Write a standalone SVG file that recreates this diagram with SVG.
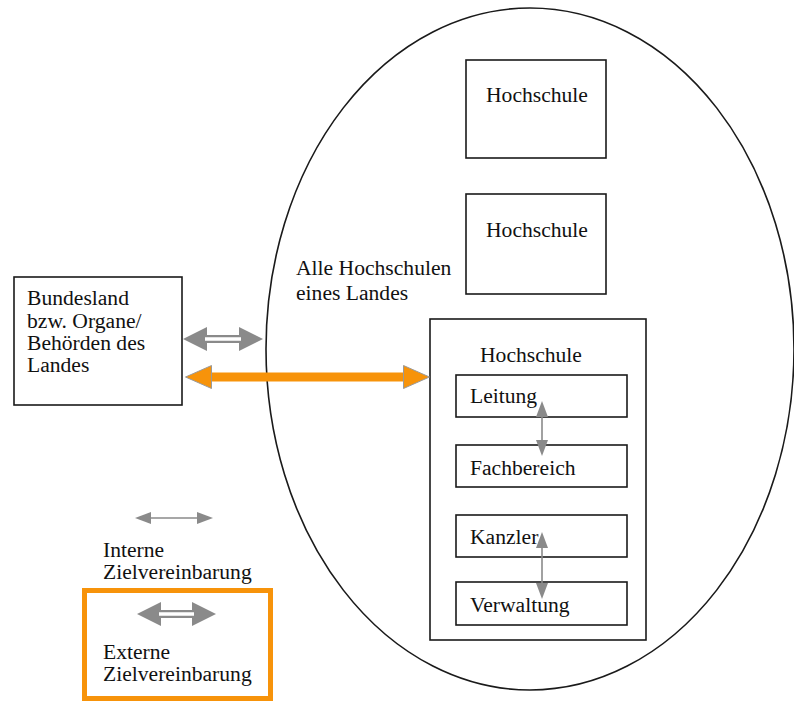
<svg xmlns="http://www.w3.org/2000/svg" width="794" height="701" viewBox="0 0 794 701">
  <style>
    .box { fill: #fff; stroke: #1a1a1a; stroke-width: 1.6; }
    .t { font-family: "Liberation Serif", "Times New Roman", serif; font-size: 21.6px; fill: #111; }
    .int { stroke: #8a8a8a; stroke-width: 1.6; fill: none; }
    .ext { stroke: #8a8a8a; stroke-width: 8; fill: none; }
    .extgap { stroke: #fff; stroke-width: 3.5; fill: none; }
    .orange { stroke: #f7930a; stroke-width: 9; fill: none; }
  </style>
  <defs>
    <!-- heads are anchored at their base, so lines stop where the head begins -->
    <marker id="intHead" viewBox="0 0 16 12" refX="0" refY="6" markerWidth="16" markerHeight="12" markerUnits="userSpaceOnUse" orient="auto-start-reverse">
      <path d="M0,0 L16,6 L0,12 Z" fill="#8a8a8a"/>
    </marker>
    <marker id="extHead" viewBox="0 0 24 24" refX="0" refY="12" markerWidth="24" markerHeight="24" markerUnits="userSpaceOnUse" orient="auto-start-reverse">
      <path d="M0,0 L24,12 L0,24 Z" fill="#8a8a8a"/>
    </marker>
    <marker id="orHead" viewBox="0 0 27 24" refX="1" refY="12" markerWidth="27" markerHeight="24" markerUnits="userSpaceOnUse" orient="auto-start-reverse">
      <path d="M0.5,0.5 L26.5,12 L0.5,23.5 Z" fill="#f7930a" stroke="#9a9a9a" stroke-width="1"/>
    </marker>
  </defs>

  <rect width="794" height="701" fill="#fff"/>

  <!-- all universities of one state -->
  <g id="land-ellipse">
    <ellipse cx="530" cy="349" rx="264" ry="341" fill="none" stroke="#1a1a1a" stroke-width="1.6"/>
    <text class="t" x="296" y="275">Alle Hochschulen</text>
    <text class="t" x="296" y="300">eines Landes</text>
  </g>

  <g id="bundesland">
    <rect class="box" x="14" y="277" width="168" height="128"/>
    <text class="t" x="27" y="305">Bundesland</text>
    <text class="t" x="27" y="328">bzw. Organe/</text>
    <text class="t" x="27" y="350">Behörden des</text>
    <text class="t" x="27" y="372">Landes</text>
  </g>

  <g id="hochschule-1">
    <rect class="box" x="466" y="60" width="140" height="98"/>
    <text class="t" x="537" y="102" text-anchor="middle">Hochschule</text>
  </g>

  <g id="hochschule-2">
    <rect class="box" x="466" y="194" width="140" height="100"/>
    <text class="t" x="537" y="237" text-anchor="middle">Hochschule</text>
  </g>

  <g id="hochschule-3">
    <rect class="box" x="430" y="319" width="216" height="321"/>
    <text class="t" x="480" y="362">Hochschule</text>
  </g>

  <g id="leitung">
    <rect class="box" x="456" y="375" width="171" height="42"/>
    <text class="t" x="470" y="403">Leitung</text>
  </g>

  <g id="fachbereich">
    <rect class="box" x="456" y="445" width="171" height="42"/>
    <text class="t" x="470" y="475">Fachbereich</text>
  </g>

  <g id="kanzler">
    <rect class="box" x="456" y="515" width="171" height="42"/>
    <text class="t" x="470" y="544">Kanzler</text>
  </g>

  <g id="verwaltung">
    <rect class="box" x="456" y="582" width="171" height="43"/>
    <text class="t" x="470" y="612">Verwaltung</text>
  </g>

  <g id="connectors">
    <!-- external agreement, double line: tips at 183 and 263 -->
    <line class="ext" x1="207" y1="339" x2="239" y2="339" marker-start="url(#extHead)" marker-end="url(#extHead)"/>
    <line class="extgap" x1="205" y1="339" x2="241" y2="339"/>
    <!-- highlighted external agreement: tips at 185 and 430 -->
    <line class="orange" x1="211" y1="377" x2="404" y2="377" marker-start="url(#orHead)" marker-end="url(#orHead)"/>
    <!-- internal agreements -->
    <line class="int" x1="542" y1="417" x2="542" y2="440" marker-start="url(#intHead)" marker-end="url(#intHead)"/>
    <line class="int" x1="542" y1="548" x2="542" y2="583" marker-start="url(#intHead)" marker-end="url(#intHead)"/>
  </g>

  <!-- legend -->
  <g id="legend-intern">
    <line class="int" x1="151" y1="518" x2="197" y2="518" marker-start="url(#intHead)" marker-end="url(#intHead)"/>
    <text class="t" x="103" y="557">Interne</text>
    <text class="t" x="103" y="579">Zielvereinbarung</text>
  </g>

  <g id="legend-extern">
    <rect x="84.5" y="590.5" width="186" height="108" fill="none" stroke="#f7930a" stroke-width="5"/>
    <line class="ext" x1="161" y1="614" x2="192" y2="614" marker-start="url(#extHead)" marker-end="url(#extHead)"/>
    <line class="extgap" x1="159" y1="614" x2="194" y2="614"/>
    <text class="t" x="103" y="659">Externe</text>
    <text class="t" x="103" y="681">Zielvereinbarung</text>
  </g>
</svg>
